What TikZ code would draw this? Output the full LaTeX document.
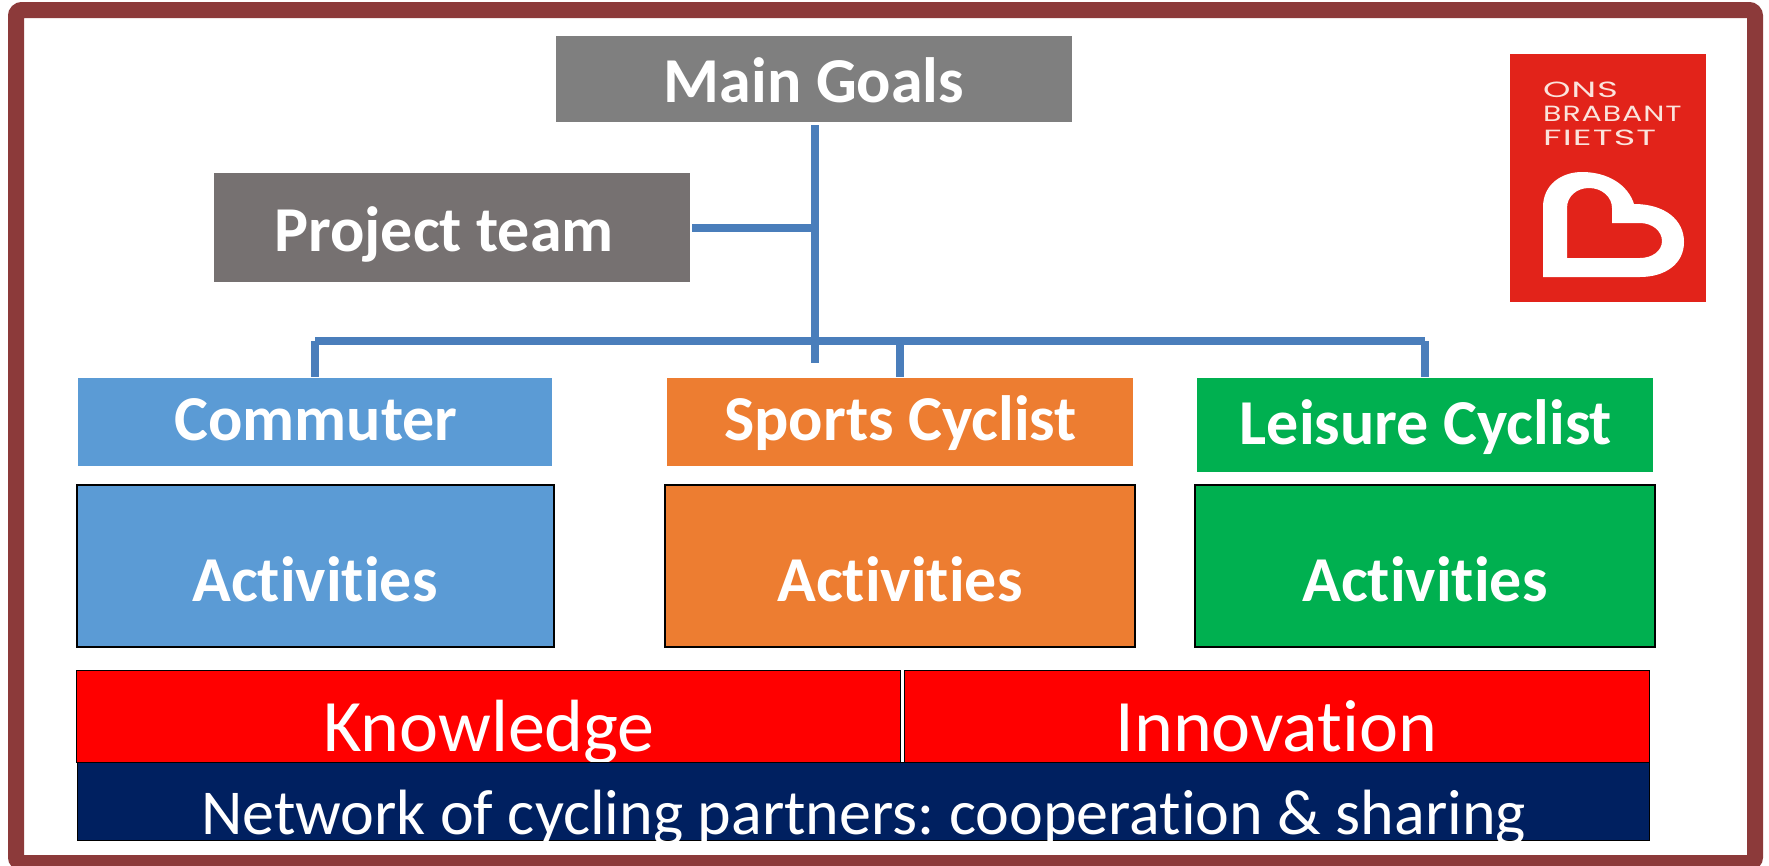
\documentclass[tikz,border=0pt]{standalone}
\usepackage{graphicx}
\usepackage{fontspec}
\setmainfont{Carlito}[Ligatures=NoCommon]
\newfontfamily\logofont[LetterSpace=4,FakeStretch=1.3]{Poppins}
\frenchspacing
\definecolor{frameC}{HTML}{8C3A3A}
\definecolor{lineC}{HTML}{4A7EBB}
\definecolor{goalC}{HTML}{7F7F7F}
\definecolor{teamC}{HTML}{767171}
\definecolor{blueC}{HTML}{5B9BD5}
\definecolor{orangeC}{HTML}{ED7D31}
\definecolor{greenC}{HTML}{00B050}
\definecolor{navyC}{HTML}{002060}
\definecolor{logoC}{HTML}{E2231A}
\definecolor{logoT}{HTML}{FBE3DC}
\tikzset{
  x=1pt,y=-1pt,
  headbox/.style={inner sep=0,outer sep=0},
  head/.style={text=white,font=\fontsize{64}{64}\selectfont\bfseries,inner sep=0,outer sep=0,anchor=base},
  act/.style={draw=black,line width=1.5pt,inner sep=0,outer sep=0},
  band/.style={draw=black,line width=1pt,fill=red,inner sep=0,outer sep=0},
  bandtext/.style={text=white,font=\fontsize{#1}{#1}\selectfont,inner sep=0,anchor=base},
  conn/.style={draw=lineC,line width=8pt},
  logotext/.style={text=logoT,font=\logofont\fontsize{22}{22}\selectfont,anchor=base west,inner sep=0},
}
\begin{document}
\begin{tikzpicture}
\useasboundingbox (0,0) rectangle (1769,865);
\fill[white] (0,0) rectangle (1769,865);
\draw[frameC,line width=16pt,rounded corners=6pt] (16,10) rectangle (1755,863);
% logo
\node[fill=logoC,minimum width=196pt,minimum height=248pt,inner sep=0] (logo) at (1608,178) {};
\node[logotext] (l1) at (1543,97) {\scalebox{1.22}[1]{ONS}};
\node[logotext] (l2) at (1543,121) {\scalebox{1.05}[1]{BRABANT}};
\node[logotext] (l3) at (1543,145) {\scalebox{1.28}[1]{FIETST}};
\fill[white,even odd rule]
  (1543,277) -- (1543,207) .. controls (1543,185) and (1561,172) .. (1582,172)
  .. controls (1608,172) and (1628,185) .. (1634,204)
  .. controls (1665,204) and (1684,220) .. (1684,242)
  .. controls (1684,264) and (1665,277) .. (1640,277) -- cycle
  (1567,258) -- (1567,208) .. controls (1567,196) and (1577,188) .. (1589,188)
  .. controls (1602,188) and (1612,197) .. (1612,208)
  -- (1612,223) -- (1640,223) .. controls (1652,223) and (1662,231) .. (1662,241)
  .. controls (1662,251) and (1652,258) .. (1640,258) -- cycle;
% top boxes
\node[headbox,fill=goalC,minimum width=516pt,minimum height=86pt] (goals) at (814,79) {};
\node[head] (goalsT) at (814,102) {Main Goals};
\node[headbox,fill=teamC,minimum width=476pt,minimum height=109pt] (team) at (452,227.5) {};
\node[head] (teamT) at (444,251) {Project team};
\node[headbox,fill=blueC,minimum width=474pt,minimum height=88pt] (comm) at (315,422) {};
\node[head] (commT) at (316,440) {Commuter};
\node[headbox,fill=orangeC,minimum width=466pt,minimum height=88pt] (sport) at (900,421.5) {};
\node[head] (sportT) at (900.5,440) {Sports Cyclist};
\node[headbox,fill=greenC,minimum width=456pt,minimum height=94pt] (leis) at (1425,425) {};
\node[head] (leisT) at (1426,444) {Leisure Cyclist};
\node[act,fill=blueC,minimum width=477pt,minimum height=162pt] (a1) at (315.5,566) {};
\node[act,fill=orangeC,minimum width=470pt,minimum height=162pt] (a2) at (900,566) {};
\node[act,fill=greenC,minimum width=460pt,minimum height=162pt] (a3) at (1425,566) {};
\node[head] (a1T) at (315,601) {Activities};
\node[head] (a2T) at (900,601) {Activities};
\node[head] (a3T) at (1425,601) {Activities};
% connectors
\coordinate (trunkTop) at (814.5,125);
\coordinate (trunkEnd) at (814.5,363);
\coordinate (busL) at (315,340.8);
\coordinate (busR) at (1425,340.8);
\draw[conn] (trunkTop) -- (trunkEnd);
\draw[conn] (team.east) ++(2,0) -- (trunkTop |- team.east);
\draw[conn] (busL) -- (busR);
\draw[conn] (busL) -- (busL |- 0,376.7);
\draw[conn] (sport.north |- busL) -- (sport.north |- 0,376.7);
\draw[conn] (busR) -- (busR |- 0,376.7);
% bands
\node[band,minimum width=824pt,minimum height=92pt] (know) at (488.5,716) {};
\node[band,minimum width=745pt,minimum height=92pt] (inno) at (1276.5,716) {};
\node[bandtext=74] (knowT) at (489,751) {Knowledge};
\node[bandtext=74] (innoT) at (1276.5,751) {Innovation};
\node[band,fill=navyC,minimum width=1572pt,minimum height=78pt] (net) at (863,801) {};
\begin{scope}
\clip (net.south west) rectangle (net.north east);
\node[bandtext=64] (netT) at (863.5,834) {Network of cycling partners: cooperation \& sharing};
\end{scope}
\end{tikzpicture}
\end{document}
